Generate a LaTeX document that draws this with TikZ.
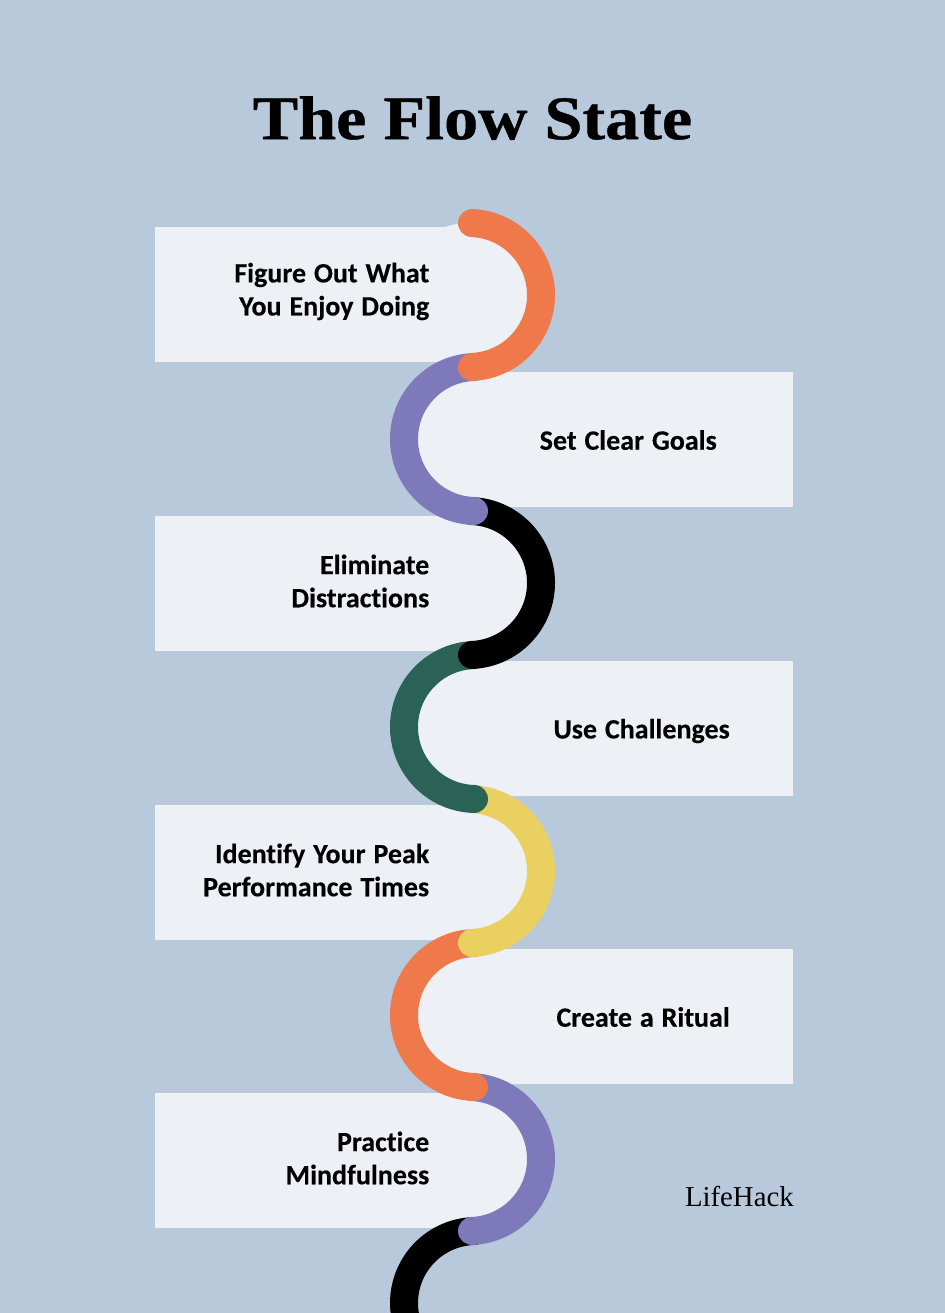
\documentclass[tikz,border=0pt]{standalone}
\usepackage{fontspec}
\setmainfont[Ligatures=NoCommon,WordSpace=1.25,BoldFeatures={FakeBold=0.25}]{Carlito}
\newfontfamily\titlefont[BoldFeatures={FakeBold=0.6}]{Liberation Serif}
\definecolor{bgc}{HTML}{B9C9DC}
\definecolor{boxc}{HTML}{EDF1F6}
\definecolor{orangec}{HTML}{F0794B}
\definecolor{purplec}{HTML}{7E79BB}
\definecolor{greenc}{HTML}{2A6355}
\definecolor{yellowc}{HTML}{EAD060}
\tikzset{
  x=0.75pt,y=-0.75pt,
  boxfill/.style={fill=boxc,draw=none},
  ring/.style={line width=21pt,line cap=round},
  lbl/.style={inner sep=0pt,font=\fontsize{21pt}{24.8pt}\selectfont\bfseries,text=black,anchor=east,align=right}
}
\newcommand{\rightarc}[2]{\draw[ring,#1] (469,#2) ++(-87.6:72) arc[start angle=-87.6,end angle=87.6,radius=72];}
\newcommand{\leftarc}[2]{\draw[ring,#1] (476,#2) ++(91.6:72) arc[start angle=91.6,end angle=268.4,radius=72];}
\begin{document}
\begin{tikzpicture}
\useasboundingbox (0,0) rectangle (945,1313);
\fill[bgc] (0,0) rectangle (945,1313);
\node[inner sep=0pt,font=\titlefont\fontsize{46.5pt}{50pt}\selectfont\bfseries,xscale=1.1] (title) at (472.5,118) {The Flow State};
% left boxes
\fill[boxfill] (155,227) rectangle (469,362);
\fill[boxfill] (469,295) circle[radius=72];
\fill[boxfill] (155,516) rectangle (469,651);
\fill[boxfill] (469,583) circle[radius=72];
\fill[boxfill] (155,805) rectangle (469,940);
\fill[boxfill] (469,871) circle[radius=72];
\fill[boxfill] (155,1093) rectangle (469,1228);
\fill[boxfill] (469,1159) circle[radius=72];
% right boxes
\fill[boxfill] (476,372) rectangle (793,507);
\fill[boxfill] (476,439) circle[radius=72];
\fill[boxfill] (476,661) rectangle (793,796);
\fill[boxfill] (476,727) circle[radius=72];
\fill[boxfill] (476,949) rectangle (793,1084);
\fill[boxfill] (476,1015) circle[radius=72];
% arcs, lowest first so each lies over the next
\begin{scope}
\clip (0,0) rectangle (945,1313);
\draw[ring,black] (476,1303) ++(160:72) arc[start angle=160,end angle=268.4,radius=72];
\end{scope}
\rightarc{purplec}{1159}
\leftarc{orangec}{1015}
\rightarc{yellowc}{871}
\leftarc{greenc}{727}
\rightarc{black}{583}
\leftarc{purplec}{439}
\rightarc{orangec}{295}
% labels
\node[lbl] (a) at (429.5,291.5) {Figure Out What\\You Enjoy Doing};
\node[lbl] (b) at (717,440) {Set Clear Goals};
\node[lbl] (c) at (429.5,581) {Eliminate\\Distractions};
\node[lbl] (d) at (730,731) {Use Challenges};
\node[lbl] (e) at (429.5,870) {Identify Your Peak\\Performance Times};
\node[lbl] (f) at (730,1017) {Create a Ritual};
\node[lbl] (g) at (429.5,1158) {Practice\\Mindfulness};
\node[inner sep=0pt,font=\titlefont\fontsize{21.6pt}{25pt}\selectfont,anchor=east] (logo) at (794,1196) {LifeHack};
\end{tikzpicture}
\end{document}
